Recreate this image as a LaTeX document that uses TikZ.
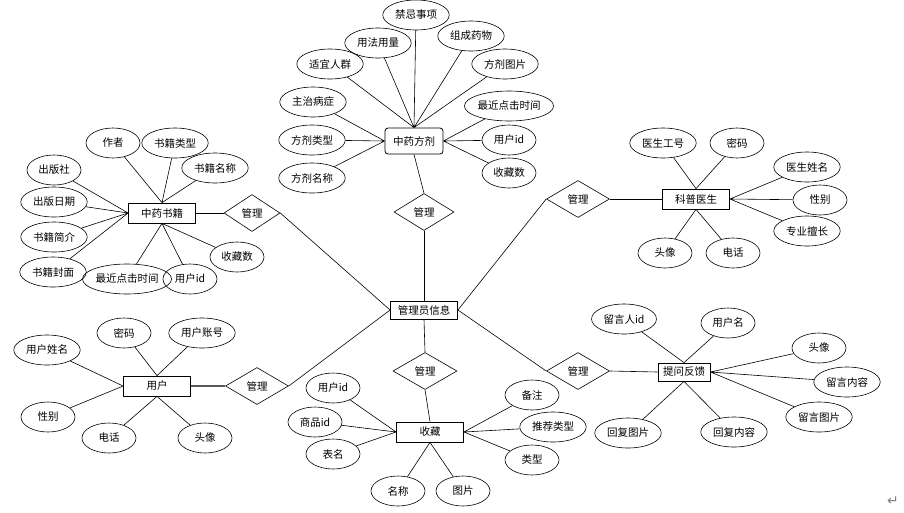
\documentclass[tikz,border=0pt]{standalone}
\usepackage{fontspec}
\newfontfamily\cjk{Noto Sans CJK SC}
\newfontfamily\symfont{DejaVu Sans}
\usetikzlibrary{shapes.geometric}

\begin{document}
\begin{tikzpicture}[
  x=1pt, y=-1pt,
  font=\cjk\fontsize{10.5}{12}\selectfont,
  attr/.style={draw, ellipse, line width=0.6pt, inner xsep=2.5pt, inner ysep=0pt,
    minimum width=54, minimum height=30},
  ent/.style={draw, rectangle, line width=0.8pt, inner sep=2pt,
    minimum width=67, minimum height=20},
  rel/.style={draw, diamond, line width=0.6pt, inner sep=0pt,
    minimum width=60, minimum height=37},
  link/.style={line width=0.6pt}
]
\useasboundingbox (0,0) rectangle (904,512);

% entities
\node[ent, rounded corners=3pt, minimum width=58, minimum height=26] (fang) at (414,141) {中药方剂};
\node[ent] (shu) at (162,213) {中药书籍};
\node[ent] (yisheng) at (696,199) {科普医生};
\node[ent] (yonghu) at (157,386) {用户};
\node[ent, minimum height=18] (admin) at (424,310) {管理员信息};
\node[ent] (shoucang) at (430,432) {收藏};
\node[ent, minimum width=52, minimum height=18, inner sep=1pt] (fankui) at (684,372) {提问反馈};

% relations
\node[rel] (mFang) at (424,212) {管理};
\node[rel, minimum width=56] (mShu) at (252,213) {管理};
\node[rel, minimum width=63] (mYisheng) at (578,199) {管理};
\node[rel, minimum width=63] (mYonghu) at (257,386) {管理};
\node[rel, minimum width=64] (mShoucang) at (425,371) {管理};
\node[rel, minimum width=63] (mFankui) at (578,371) {管理};

% 中药方剂
\node[attr] (fRen) at (330,64) {适宜人群};
\node[attr] (fYong) at (378,43) {用法用量};
\node[attr] (fJin) at (416,15) {禁忌事项};
\node[attr] (fZu) at (471,36) {组成药物};
\node[attr] (fTu) at (505,64) {方剂图片};
\node[attr] (fZhu) at (313,102) {主治病症};
\node[attr] (fLei) at (312,140) {方剂类型};
\node[attr] (fMing) at (312,178) {方剂名称};
\node[attr, inner xsep=0pt] (fShi) at (509,106) {最近点击时间};
\node[attr] (fUid) at (509,140) {用户id};
\node[attr] (fShu) at (509,173) {收藏数};

% 中药书籍
\node[attr] (sZuo) at (113,143) {作者};
\node[attr] (sLei) at (175,143) {书籍类型};
\node[attr] (sMing) at (215,168) {书籍名称};
\node[attr] (sChu) at (54,170) {出版社};
\node[attr] (sRi) at (54,202) {出版日期};
\node[attr] (sJian) at (54,237) {书籍简介};
\node[attr] (sFeng) at (53,272) {书籍封面};
\node[attr, inner xsep=0pt] (sShi) at (127,279) {最近点击时间};
\node[attr] (sUid) at (190,279) {用户id};
\node[attr] (sShu) at (237,257) {收藏数};

% 科普医生
\node[attr] (dHao) at (663,143) {医生工号};
\node[attr] (dMi) at (737,143) {密码};
\node[attr] (dMing) at (807,167) {医生姓名};
\node[attr] (dXing) at (820,200) {性别};
\node[attr] (dZhuan) at (807,231) {专业擅长};
\node[attr] (dTou) at (665,253) {头像};
\node[attr] (dDian) at (733,253) {电话};

% 用户
\node[attr] (uMi) at (124,333) {密码};
\node[attr] (uZhang) at (202,333) {用户账号};
\node[attr] (uMing) at (47,350) {用户姓名};
\node[attr] (uXing) at (48,417) {性别};
\node[attr] (uDian) at (109,438) {电话};
\node[attr] (uTou) at (205,438) {头像};

% 收藏
\node[attr] (cUid) at (333,388) {用户id};
\node[attr] (cPid) at (315,422) {商品id};
\node[attr] (cBiao) at (333,454) {表名};
\node[attr] (cMing) at (398,491) {名称};
\node[attr] (cTu) at (463,491) {图片};
\node[attr] (cBei) at (532,395) {备注};
\node[attr] (cTui) at (553,427) {推荐类型};
\node[attr] (cLei) at (532,460) {类型};

% 提问反馈
\node[attr] (qRen) at (624,319) {留言人id};
\node[attr] (qMing) at (728,323) {用户名};
\node[attr] (qTou) at (819,348) {头像};
\node[attr] (qNei) at (847,382) {留言内容};
\node[attr] (qTu) at (819,417) {留言图片};
\node[attr] (qHtu) at (628,433) {回复图片};
\node[attr] (qHnei) at (734,432) {回复内容};

\node[font=\symfont\fontsize{14}{14}\selectfont, text=gray] (ret) at (893,501) {↵};

% attribute links
\draw[link] (fang.north) -- (fRen) (fang.north) -- (fYong) (fang.north) -- (fJin)
  (fang.north) -- (fZu) (fang.north) -- (fTu);
\draw[link] (fang.west) -- (fZhu) (fang.west) -- (fLei) (fang.west) -- (fMing);
\draw[link] (fang.east) -- (fShi) (fang.east) -- (fUid) (fang.east) -- (fShu);

\draw[link] (shu.north) -- (sZuo) (shu.north) -- (sLei) (shu.north) -- (sMing);
\draw[link] (shu.west) -- (sChu) (shu.west) -- (sRi) (shu.west) -- (sJian) (shu.west) -- (sFeng);
\draw[link] (shu.south) -- (sShi) (shu.south) -- (sUid) (shu.south) -- (sShu);

\draw[link] (yisheng.north) -- (dHao) (yisheng.north) -- (dMi);
\draw[link] (yisheng.east) -- (dMing) (yisheng.east) -- (dXing) (yisheng.east) -- (dZhuan);
\draw[link] (yisheng.south) -- (dTou) (yisheng.south) -- (dDian);

\draw[link] (yonghu.north) -- (uMi) (yonghu.north) -- (uZhang);
\draw[link] (yonghu.west) -- (uMing) (yonghu.west) -- (uXing);
\draw[link] (yonghu.south) -- (uDian) (yonghu.south) -- (uTou);

\draw[link] (shoucang.west) -- (cUid) (shoucang.west) -- (cPid) (shoucang.west) -- (cBiao);
\draw[link] (shoucang.south) -- (cMing) (shoucang.south) -- (cTu);
\draw[link] (shoucang.east) -- (cBei) (shoucang.east) -- (cTui) (shoucang.east) -- (cLei);

\draw[link] (fankui.north) -- (qRen) (fankui.north) -- (qMing);
\draw[link] (fankui.east) -- (qTou) (fankui.east) -- (qNei) (fankui.east) -- (qTu);
\draw[link] (fankui.south) -- (qHtu) (fankui.south) -- (qHnei);

% relation links
\draw[link] (fang.south) -- (mFang.north);
\draw[link] (mFang.south) -- (admin.north);
\draw[link] (shu.east) -- (mShu.west);
\draw[link] (mShu.east) -- (admin.west);
\draw[link] (yisheng.west) -- (mYisheng.east);
\draw[link] (mYisheng.west) -- (admin.east);
\draw[line width=1.6pt, gray!70!black] (yonghu.east) -- (mYonghu.west);
\draw[link] (mYonghu.east) -- (admin.west);
\draw[link] (admin.south) -- (mShoucang.north);
\draw[link] (mShoucang.south) -- (shoucang.north);
\draw[link] (fankui.west) -- (mFankui.east);
\draw[link] (mFankui.west) -- (admin.east);
\end{tikzpicture}
\end{document}
